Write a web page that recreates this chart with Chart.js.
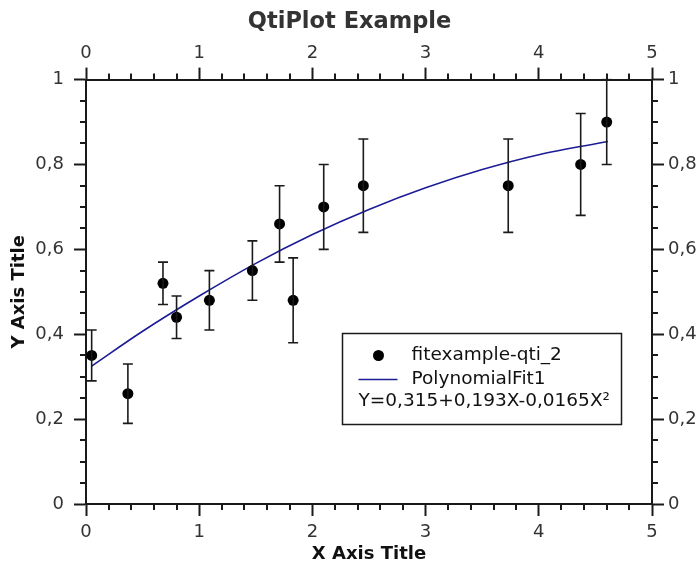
<!DOCTYPE html>
<html>
<head>
<meta charset="utf-8">
<script src="https://cdn.jsdelivr.net/npm/chart.js@4.4.1/dist/chart.umd.min.js"></script>
<style>
  html, body { margin: 0; padding: 0; background: #fff; }
  canvas { display: block; }
</style>
</head>
<body>
<canvas id="fitChart" width="699" height="563"></canvas>
<script>
const xValues = [0.05, 0.37, 0.68, 0.80, 1.09, 1.47, 1.71, 1.83, 2.10, 2.45, 3.73, 4.37, 4.60];
const yValues = [0.35, 0.26, 0.52, 0.44, 0.48, 0.55, 0.66, 0.48, 0.70, 0.75, 0.75, 0.80, 0.90];
const yErrors = [0.06, 0.07, 0.05, 0.05, 0.07, 0.07, 0.09, 0.10, 0.10, 0.11, 0.11, 0.12, 0.10];

// Кривая аппроксимации (точки)
const fitX = [0.05, 0.5, 1.0, 1.5, 2.0, 2.5, 3.0, 3.5, 4.0, 4.61];
const fitY = [0.325, 0.407, 0.490, 0.567, 0.635, 0.694, 0.745, 0.788, 0.823, 0.854];

// Подписи делений
const xTickLabels = ['0', '1', '2', '3', '4', '5'];
const yTickLabels = ['0', '0,2', '0,4', '0,6', '0,8', '1'];

const legendLabels = ['fitexample-qti_2', 'PolynomialFit1', 'Y=0,315+0,193X-0,0165X²'];

const axisColor = '#1a1a1a';
const textColor = '#333';
const fitColor = '#1c1c96';
const fontFamily = '"DejaVu Sans", sans-serif';

// Планки погрешностей
const errorBars = {
    id: 'errorBars',
    afterDatasetsDraw(chart) {
        const ctx = chart.ctx;
        const xs = chart.scales.x, ys = chart.scales.y;
        const area = chart.chartArea;
        ctx.save();
        ctx.beginPath();
        ctx.rect(area.left, area.top - 1, area.right - area.left, area.bottom - area.top + 2);
        ctx.clip();
        ctx.strokeStyle = axisColor;
        ctx.lineWidth = 1.6;
        ctx.beginPath();
        xValues.forEach((xv, i) => {
            const px = xs.getPixelForValue(xv);
            const top = ys.getPixelForValue(yValues[i] + yErrors[i]);
            const bottom = ys.getPixelForValue(yValues[i] - yErrors[i]);
            ctx.moveTo(px, top); ctx.lineTo(px, bottom);
            ctx.moveTo(px - 5, top); ctx.lineTo(px + 5, top);
            ctx.moveTo(px - 5, bottom); ctx.lineTo(px + 5, bottom);
        });
        ctx.stroke();
        ctx.restore();
    }
};

// Мелкие деления на всех четырёх осях
const minorTicks = {
    id: 'minorTicks',
    afterDraw(chart) {
        const ctx = chart.ctx;
        const {x, x2, y, y2} = chart.scales;
        const len = 6;
        ctx.save();
        ctx.strokeStyle = axisColor;
        ctx.lineWidth = 2;
        ctx.beginPath();
        for (let i = 1; i < 25; i++) {
            if (i % 5 === 0) continue;
            const v = i * 0.2;
            const px = Math.round(x.getPixelForValue(v));
            ctx.moveTo(px, x.top); ctx.lineTo(px, x.top + len);
            ctx.moveTo(px, x2.bottom); ctx.lineTo(px, x2.bottom - len);
        }
        for (let i = 1; i < 20; i++) {
            if (i % 4 === 0) continue;
            const v = i * 0.05;
            const py = Math.round(y.getPixelForValue(v));
            ctx.moveTo(y.right, py); ctx.lineTo(y.right - len, py);
            ctx.moveTo(y2.left, py); ctx.lineTo(y2.left + len, py);
        }
        ctx.stroke();
        ctx.restore();
    }
};

// Легенда внутри области графика
const innerLegend = {
    id: 'innerLegend',
    afterDraw(chart) {
        const ctx = chart.ctx;
        const left = Math.round(chart.scales.x.getPixelForValue(2.265)) + 0.5;
        const top = Math.round(chart.scales.y.getPixelForValue(0.402)) + 0.5;
        const w = 279, h = 91;
        ctx.save();
        ctx.fillStyle = '#fff';
        ctx.fillRect(left, top, w, h);
        ctx.strokeStyle = axisColor;
        ctx.lineWidth = 1.5;
        ctx.strokeRect(left, top, w, h);

        ctx.fillStyle = '#000';
        ctx.beginPath();
        ctx.arc(left + 36, top + 22, 5.5, 0, Math.PI * 2);
        ctx.fill();

        ctx.strokeStyle = fitColor;
        ctx.lineWidth = 1.3;
        ctx.beginPath();
        ctx.moveTo(left + 16, top + 46);
        ctx.lineTo(left + 55, top + 46);
        ctx.stroke();

        ctx.fillStyle = '#111';
        ctx.font = '18.5px ' + fontFamily;
        ctx.textBaseline = 'middle';
        ctx.textAlign = 'left';
        ctx.fillText(legendLabels[0], left + 69, top + 22);
        ctx.fillText(legendLabels[1], left + 69, top + 46);
        ctx.fillText(legendLabels[2], left + 16, top + 68);
        ctx.restore();
    }
};

function axisOptions(position, labels, stepSize, pad, fixSize) {
    return {
        type: 'linear',
        position: position,
        min: 0,
        max: position === 'bottom' || position === 'top' ? 5 : 1,
        grid: {
            drawOnChartArea: false,
            drawTicks: true,
            tickLength: 12,
            tickColor: axisColor,
            tickWidth: 2
        },
        border: { display: true, color: axisColor, width: 2 },
        ticks: {
            stepSize: stepSize,
            padding: pad,
            color: textColor,
            font: { family: fontFamily, size: 18 },
            callback: (value, index) => labels[index]
        },
        afterFit: fixSize
    };
}

const xOpts = axisOptions('bottom', xTickLabels, 1, 6, s => { s.height = 59; });
xOpts.title = {
    display: true,
    text: 'X Axis Title',
    color: '#111',
    font: { family: fontFamily, size: 18, weight: 'bold', lineHeight: 1 },
    padding: { top: 0, bottom: 0 }
};
const yOpts = axisOptions('left', yTickLabels, 0.2, 10, s => { s.width = 86; });
yOpts.title = {
    display: true,
    text: 'Y Axis Title',
    color: '#111',
    font: { family: fontFamily, size: 18, weight: 'bold', lineHeight: 1 },
    padding: { top: 10, bottom: 0 }
};
const x2Opts = axisOptions('top', xTickLabels, 1, 3, s => { s.height = 43.6; });
const y2Opts = axisOptions('right', yTickLabels, 0.2, 4, s => { s.width = 47; });

new Chart(document.getElementById('fitChart'), {
    type: 'scatter',
    data: {
        datasets: [
            {
                label: legendLabels[0],
                data: xValues.map((x, i) => ({ x: x, y: yValues[i] })),
                backgroundColor: '#000',
                borderWidth: 0,
                pointRadius: 5.5,
                pointHoverRadius: 5.5
            },
            {
                type: 'line',
                label: legendLabels[1],
                data: fitX.map((x, i) => ({ x: x, y: fitY[i] })),
                borderColor: fitColor,
                borderWidth: 1.6,
                pointRadius: 0,
                fill: false,
                cubicInterpolationMode: 'monotone'
            }
        ]
    },
    options: {
        responsive: false,
        animation: false,
        layout: { padding: 0 },
        scales: { x: xOpts, y: yOpts, x2: x2Opts, y2: y2Opts },
        plugins: {
            legend: { display: false },
            tooltip: { enabled: false },
            title: {
                display: true,
                text: 'QtiPlot Example',
                color: textColor,
                font: { family: fontFamily, size: 22.5, weight: 'bold', lineHeight: 1.2 },
                padding: { top: 9, bottom: 0 }
            }
        }
    },
    plugins: [errorBars, minorTicks, innerLegend]
});
</script>
</body>
</html>
